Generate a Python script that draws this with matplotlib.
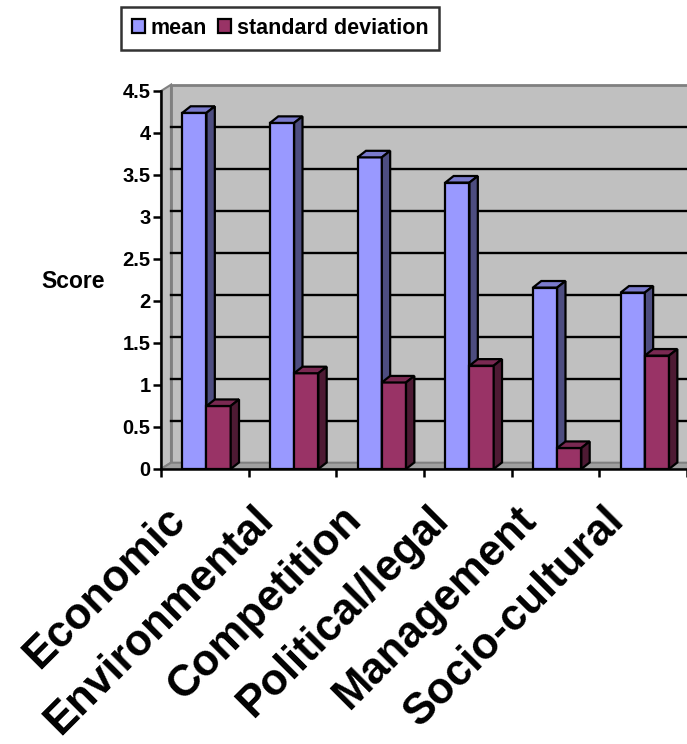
#import necessary libraries
import matplotlib.pyplot as plt
from matplotlib.patches import Polygon
from matplotlib.transforms import offset_copy

plt.rcParams['font.family'] = ['Liberation Sans', 'DejaVu Sans']
plt.rcParams['font.weight'] = 'bold'

# categories and the two series
categories = ["Economic", "Environmental", "Competition", "Political/legal", "Management", "Socio-cultural"]
mean = [4.24, 4.12, 3.71, 3.41, 2.16, 2.10]
std_dev = [0.75, 1.14, 1.03, 1.23, 0.25, 1.35]
y_ticks = [0, 0.5, 1, 1.5, 2, 2.5, 3, 3.5, 4, 4.5]
y_tick_labels = ["0", "0.5", "1", "1.5", "2", "2.5", "3", "3.5", "4", "4.5"]

# colours of the front, top and side faces
mean_colors = ("#9999FF", "#7A7ACC", "#4D4D80")
std_colors = ("#993366", "#7A2952", "#4D1A33")

fig = plt.figure(figsize=(6.87, 7.44), dpi=100)
ax = fig.add_axes([161/687, 275/744, 526/687, 378/744])
ax.set_xlim(0, 6)
ax.set_ylim(0, 4.5)
ax.patch.set_visible(False)

# depth of the walls and of the bars, in data units
wdx, wdy = 0.114, 0.075
bdx, bdy = 0.095, 0.078
bar_w = 0.276

# back wall, side wall and floor
ax.add_patch(Polygon([(wdx, wdy), (7, wdy), (7, 4.5 + wdy), (wdx, 4.5 + wdy)],
                     facecolor="#C0C0C0", edgecolor="#808080", lw=2, clip_on=False, zorder=0))
ax.add_patch(Polygon([(0, 0), (wdx, wdy), (wdx, 4.5 + wdy), (0, 4.5)],
                     facecolor="#C0C0C0", edgecolor="#808080", lw=1.5, clip_on=False, zorder=0.5))
ax.add_patch(Polygon([(0, 0), (6.5, 0), (6.5 + wdx, wdy), (wdx, wdy)],
                     facecolor="#A0A0A0", edgecolor="#808080", lw=1.5, clip_on=False, zorder=0.6))
for y in y_ticks[1:-1]:
    ax.plot([wdx, 7], [y + wdy, y + wdy], color="black", lw=1.7, clip_on=False, zorder=0.7)


def draw_bars(offset, values, colors):
    x = [i + offset for i in range(len(values))]
    bars = ax.bar(x, values, width=bar_w, align="edge", color=colors[0],
                  edgecolor="black", lw=1.6, zorder=3)
    for b in bars:
        x0, x1, h = b.get_x(), b.get_x() + b.get_width(), b.get_height()
        ax.add_patch(Polygon([(x0, h), (x1, h), (x1 + bdx, h + bdy), (x0 + bdx, h + bdy)],
                             facecolor=colors[1], edgecolor="black", lw=1.6, zorder=3, clip_on=False))
        ax.add_patch(Polygon([(x1, 0), (x1 + bdx, bdy), (x1 + bdx, h + bdy), (x1, h)],
                             facecolor=colors[2], edgecolor="black", lw=1.6, zorder=3, clip_on=False))
    return bars


mean_bars = draw_bars(0.243, mean, mean_colors)
std_bars = draw_bars(0.519, std_dev, std_colors)

# axes lines and ticks
for side in ["top", "right"]:
    ax.spines[side].set_visible(False)
for side in ["left", "bottom"]:
    ax.spines[side].set_linewidth(1.8)
    ax.spines[side].set_zorder(5)
ax.set_yticks(y_ticks)
ax.set_yticklabels(y_tick_labels, fontsize=14.5, fontweight="bold")
ax.set_xticks(range(7))
ax.set_xticklabels([])
ax.tick_params(axis="y", length=6, width=1.8, pad=1.5)
ax.tick_params(axis="x", length=6, width=1.8)

# rotated category labels
for i, name in enumerate(categories):
    tr = offset_copy(ax.transData, fig=fig, x=-0.40, y=-0.30, units="inches")
    ax.text(i + 0.5, 0, name, transform=tr, rotation=45, rotation_mode="anchor",
            ha="right", va="top", fontsize=31.5, fontweight="bold")

ax.text(-0.106, 0.497, "Score", transform=ax.transAxes, ha="right", va="center",
        fontsize=16.5, fontweight="bold")

leg = fig.legend([mean_bars, std_bars], ["mean", "standard deviation"], ncol=2,
                 loc="upper left", bbox_to_anchor=(121/687, 1 - 7/744),
                 prop={"size": 15.5, "weight": "bold"}, frameon=True, fancybox=False,
                 handlelength=0.6, handleheight=0.6, handletextpad=0.25,
                 columnspacing=0.55, borderpad=0.5, borderaxespad=0)
leg.get_frame().set_edgecolor("black")
leg.get_frame().set_linewidth(1.8)

plt.savefig("out.png", dpi=100)
